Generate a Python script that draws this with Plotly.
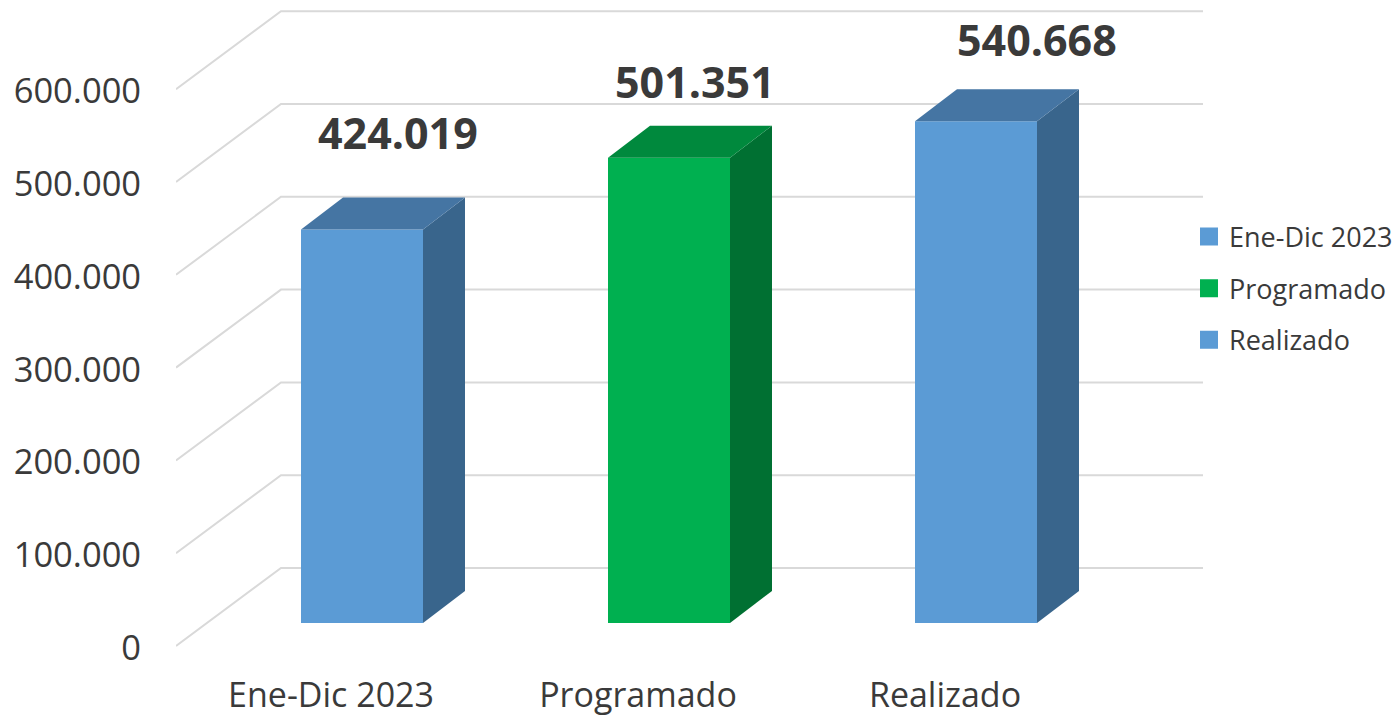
import plotly.graph_objects as go

categories = ["Ene-Dic 2023", "Programado", "Realizado"]
values = [424019, 501351, 540668]
y_ticks = [0, 100000, 200000, 300000, 400000, 500000, 600000]

FRONT = ["#5b9bd5", "#00b050", "#5b9bd5"]
SIDE = ["#39658c", "#007032", "#39658c"]
TOP = ["#4575a3", "#00893d", "#4575a3"]
GRID = "#d9d9d9"
TEXT = "#3a3a3a"
FONT = "Open Sans"

W, H = 1397, 717
L, R, T, B = 176, 0, 0, 67
PX_X = 307.0            # pixels per category
PX_Y = 0.000928         # pixels per value unit
Y0_PX = 646             # pixel of value 0
X0_PX = 362             # pixel of first category centre
xr = [(L - X0_PX) / PX_X, (W - R - X0_PX) / PX_X]
yr = [(Y0_PX - (H - B)) / PX_Y, (Y0_PX - T) / PX_Y]

BAR_W = 122 / PX_X
FLOOR_DX, FLOOR_DY = 105 / PX_X, 78 / PX_Y
WALL_END = (1203 - X0_PX) / PX_X
BASE = 23 / PX_Y
DEPTH_DX, DEPTH_DY = 42 / PX_X, 32 / PX_Y
LABEL_SHIFT = [(36, 97), (26, 76), (61, 82)]

fig = go.Figure()

# Walls: gridlines on floor-side diagonal and back wall, beneath all traces
for t in y_ticks:
    fig.add_shape(
        type="path", xref="x", yref="y", layer="below",
        path=f"M {xr[0]} {t} L {xr[0] + FLOOR_DX} {t + FLOOR_DY} L {WALL_END} {t + FLOOR_DY}",
        line=dict(color=GRID, width=2))

for i, (cat, v) in enumerate(zip(categories, values)):
    right = i + BAR_W / 2
    left = i - BAR_W / 2
    top = BASE + v
    # side face
    fig.add_trace(go.Scatter(
        x=[right, right + DEPTH_DX, right + DEPTH_DX, right, right],
        y=[BASE, BASE + DEPTH_DY, top + DEPTH_DY, top, BASE],
        mode="lines", line=dict(width=0, color=SIDE[i]), fill="toself", fillcolor=SIDE[i],
        hoverinfo="skip", showlegend=False))
    # top face
    fig.add_trace(go.Scatter(
        x=[left, left + DEPTH_DX, right + DEPTH_DX, right, left],
        y=[top, top + DEPTH_DY, top + DEPTH_DY, top, top],
        mode="lines", line=dict(width=0, color=TOP[i]), fill="toself", fillcolor=TOP[i],
        hoverinfo="skip", showlegend=False))
    # front face
    fig.add_trace(go.Bar(
        x=[i], y=[v], base=BASE, width=BAR_W,
        marker=dict(color=FRONT[i], line=dict(width=0)),
        name=cat, legendgroup=cat, showlegend=False))
    # legend entry
    fig.add_trace(go.Scatter(
        x=[None], y=[None], mode="markers", name=cat, legendgroup=cat,
        marker=dict(symbol="square", size=16, color=FRONT[i],
                    line=dict(width=2, color=FRONT[i]))))
    fig.add_annotation(
        x=i, y=top, text=f"{v:,}".replace(",", "."), showarrow=False,
        xshift=LABEL_SHIFT[i][0], yshift=LABEL_SHIFT[i][1],
        xanchor="center", yanchor="middle",
        font=dict(family=FONT, size=43, color=TEXT, weight="bold"))

fig.update_layout(
    width=W, height=H, autosize=False,
    margin=dict(l=L, r=R, t=T, b=B, pad=0, autoexpand=False),
    paper_bgcolor="white", plot_bgcolor="white",
    separators=",.",
    barmode="overlay",
    font=dict(family=FONT, color=TEXT),
    hovermode=False,
    legend=dict(x=(1189 - L) / (W - L - R), y=1 - (212.5) / (H - T - B),
                xanchor="left", yanchor="top",
                bgcolor="rgba(0,0,0,0)", borderwidth=0,
                tracegroupgap=13.5, font=dict(family=FONT, size=27, color=TEXT)),
    xaxis=dict(range=xr, showgrid=False, zeroline=False, showline=False, automargin=False,
               tickmode="array", tickvals=[i - 31 / PX_X for i in range(len(categories))],
               ticktext=categories, ticks="outside", ticklen=15, tickcolor="rgba(0,0,0,0)",
               tickfont=dict(family=FONT, size=34, color=TEXT)),
    yaxis=dict(range=yr, showgrid=False, zeroline=False, showline=False, automargin=False,
               tickmode="array", tickvals=y_ticks, tickformat=",d",
               ticks="outside", ticklen=27, tickcolor="rgba(0,0,0,0)", ticklabelshift=2,
               tickfont=dict(family=FONT, size=34.5, color=TEXT)),
)

fig.write_html("out.html", config={"displayModeBar": False},
               post_script="document.body.style.margin='0';document.body.style.overflow='hidden';")
